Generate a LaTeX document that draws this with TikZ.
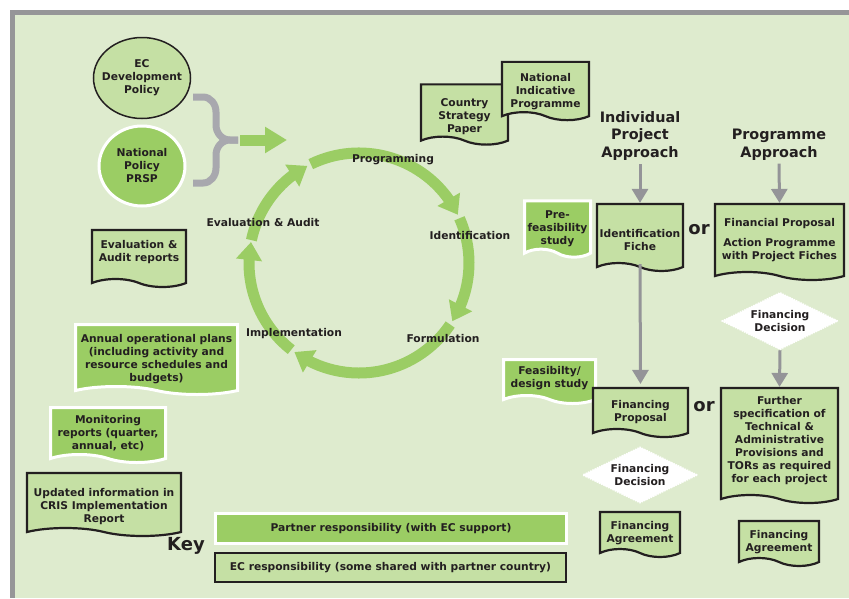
\documentclass[tikz,border=0pt]{standalone}
\usepackage{fontspec}
\setmainfont{DejaVu Sans}
\usetikzlibrary{shapes.geometric,shapes.symbols,arrows.meta,bending}

\definecolor{bggreen}{RGB}{222,235,206}
\definecolor{framegray}{RGB}{150,150,152}
\definecolor{partnergreen}{RGB}{155,205,100}
\definecolor{ecgreen}{RGB}{197,224,164}
\definecolor{bracegray}{RGB}{168,168,174}
\definecolor{arrowgray}{RGB}{148,148,152}
\definecolor{inkdark}{RGB}{35,31,32}

\tikzset{
  txt/.style={font=\bfseries\fontsize{10.7}{13}\selectfont, text=inkdark, align=center},
  doc/.style={txt, shape=tape, tape bend top=none, tape bend bottom=out and in,
    tape bend height=8pt, inner xsep=1pt, inner ysep=2pt, yshift=2pt},
  ecdoc/.style={doc, fill=ecgreen, draw=inkdark, line width=2.2pt},
  partnerdoc/.style={doc, fill=partnergreen, draw=white, line width=3pt},
  decision/.style={txt, diamond, aspect=2, fill=white, draw=white, densely dotted,
    line width=1.5pt, inner sep=0pt},
  heading/.style={font=\bfseries\fontsize{14.4}{17.5}\selectfont, text=inkdark, align=center},
  bigword/.style={font=\bfseries\fontsize{18}{20}\selectfont, text=inkdark},
  grayarrow/.style={arrowgray, line width=3pt, -{Triangle[width=16pt,length=14pt]}},
  cyclearrow/.style={partnergreen, line width=11pt, -{Triangle[width=25pt,length=18pt]}},
  bigarrow/.style={partnergreen, line width=11pt, -{Triangle[width=25pt,length=22pt]}},
}

\begin{document}
\begin{tikzpicture}[x=1pt,y=1pt]
  \useasboundingbox (0,0) rectangle (849,-598);
  % frame
  \fill[framegray] (10,-10) rectangle (849,-598);
  \fill[bggreen] (15,-15) rectangle (849,-598);

  % 1. policies and brace
  \node[txt, ellipse, fill=ecgreen, draw=inkdark, line width=1.5pt, inner xsep=-10pt,
    inner ysep=0pt, minimum width=97pt, minimum height=81pt] (ecpol) at (142,-78)
    {EC\\Development\\Policy};
  \node[txt, ellipse, fill=partnergreen, draw=white, line width=3pt, inner sep=0pt,
    minimum width=86pt, minimum height=80pt] (natpol) at (142,-166)
    {National\\Policy\\PRSP};
  \draw[bracegray, line width=7pt] (193,-97) -- (203,-97) to[out=0,in=90] (216,-112)
    -- (216,-125) to[out=-90,in=180] (230,-140) -- (238,-140);
  \draw[bracegray, line width=7pt] (193,-183) -- (203,-183) to[out=0,in=-90] (216,-168)
    -- (216,-155) to[out=90,in=180] (230,-140) -- (238,-140);
  \coordinate (bracetip) at (240,-140);
  \coordinate (cyclein) at (287,-140);
  \draw[bigarrow] (bracetip) -- (cyclein);

  % 2. cycle
  \coordinate (hub) at (359,-263);
  \foreach \from/\to in {116/26, 24/-32, -34/-126, -128/-191, 168/118}
    \draw[cyclearrow] ([shift={(\from:110pt)}]hub) arc[start angle=\from, end angle=\to, radius=110pt];
  \node[txt] (lprog) at (393,-160) {Programming};
  \node[txt] (lident) at (470,-236) {Identification};
  \node[txt] (lform) at (443,-339) {Formulation};
  \node[txt] (limpl) at (294,-334) {Implementation};
  \node[txt] (leval) at (263,-223) {Evaluation \& Audit};

  % 3. left documents
  \node[ecdoc, text height=17pt, minimum width=94pt, minimum height=57pt] (evalrep)
    at (139,-256.5) {Evaluation \&\\Audit reports};
  \node[partnerdoc, text height=55pt, minimum width=162pt, minimum height=70pt] (annual)
    at (156.5,-357.5)
    {Annual operational plans\\(including activity and\\resource schedules and\\budgets)};
  \node[partnerdoc, text height=38pt, minimum width=115pt, minimum height=55pt] (monit)
    at (108,-433) {Monitoring\\reports (quarter,\\annual, etc)};
  \node[ecdoc, text height=46pt, minimum width=154pt, minimum height=63pt] (cris)
    at (104,-502.5) {Updated information in\\CRIS Implementation\\Report};

  % 4. programming documents
  \node[ecdoc, text height=46pt, minimum width=87pt, minimum height=53pt] (csp)
    at (464.5,-112.5) {Country\\Strategy\\Paper};
  \node[ecdoc, text height=44pt, minimum width=87pt, minimum height=54pt] (nip)
    at (545.5,-89) {National\\Indicative\\Programme};

  % 5. individual project approach
  \node[heading] (indiv) at (640,-136) {Individual\\Project\\Approach};
  \node[partnerdoc, text height=42pt, minimum width=66pt, minimum height=51pt] (prefeas)
    at (557.5,-227) {Pre-\\feasibility\\study};
  \node[ecdoc, text height=35pt, minimum width=86pt, minimum height=67pt] (fiche)
    at (640,-235.5) {Identification\\Fiche};
  \node[partnerdoc, text height=23pt, minimum width=92pt, minimum height=44pt] (feasib)
    at (549.5,-379.5) {Feasibilty/\\design study};
  \node[ecdoc, text height=29pt, minimum width=95pt, minimum height=49pt] (fpropI)
    at (640.5,-410.5) {Financing\\Proposal};
  \node[decision, minimum width=115pt, minimum height=56pt] (decI) at (640,-475)
    {Financing\\Decision};
  \node[ecdoc, text height=27pt, minimum width=80pt, minimum height=45pt] (fagreeI)
    at (640,-532.5) {Financing\\Agreement};
  \draw[grayarrow] (indiv.south) -- (fiche.north);
  \draw[grayarrow] (fiche.south) -- ([yshift=3pt]fpropI.north);

  % 6. programme approach
  \node[heading] (progapp) at (779,-144.5) {Programme\\Approach};
  \node[ecdoc, text height=45pt, minimum width=129pt, minimum height=76pt] (finprop)
    at (779.5,-240) {Financial Proposal\\[7pt]Action Programme\\with Project Fiches};
  \node[decision, minimum width=116pt, minimum height=57pt] (decP) at (780,-321)
    {Financing\\Decision};
  \node[ecdoc, text height=84pt, minimum width=117pt, minimum height=115pt] (further)
    at (779.5,-443.5)
    {Further\\specification of\\Technical \&\\Administrative\\Provisions and\\TORs as required\\for each project};
  \node[ecdoc, text height=27pt, minimum width=80pt, minimum height=45pt] (fagreeP)
    at (779,-541.5) {Financing\\Agreement};
  \draw[grayarrow] (progapp.south) -- (finprop.north);
  \draw[grayarrow] (decP.south) -- (further.north);
  \node[bigword] (or1) at (699,-230) {or};
  \node[bigword] (or2) at (704,-407) {or};

  % 7. key
  \node[bigword] (key) at (186,-546) {Key};
  \node[txt, fill=partnergreen, draw=white, line width=3pt, minimum width=351pt,
    minimum height=30pt] (keypartner) at (391,-528.5)
    {Partner responsibility (with EC support)};
  \node[txt, fill=ecgreen, draw=inkdark, line width=2.2pt, minimum width=351pt,
    minimum height=29pt] (keyec) at (390.5,-567.5)
    {EC responsibility (some shared with partner country)};
\end{tikzpicture}
\end{document}
